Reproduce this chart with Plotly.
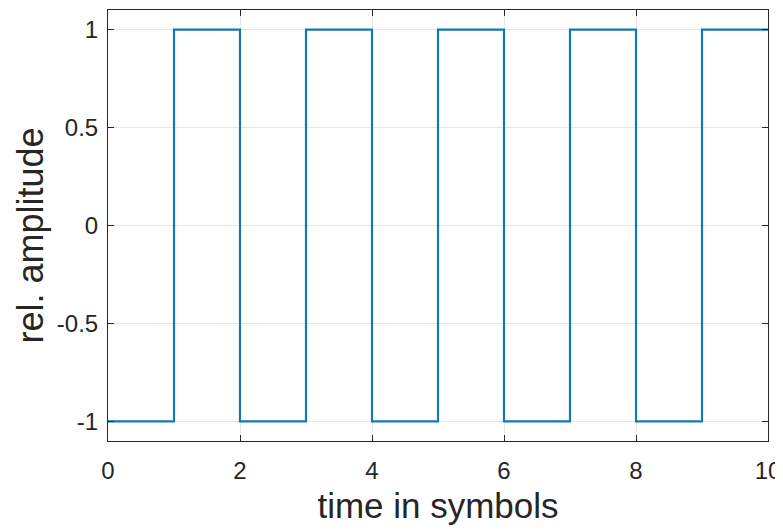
import plotly.graph_objects as go

time_symbols = [0, 1, 2, 3, 4, 5, 6, 7, 8, 9, 10]
amplitude = [-1, 1, -1, 1, -1, 1, -1, 1, -1, 1, 1]
x_ticks = [0, 2, 4, 6, 8, 10]
y_ticks = [-1, -0.5, 0, 0.5, 1]
y_tick_labels = ["-1", "-0.5", "0", "0.5", "1"]
x_title = "time in symbols"
y_title = "rel. amplitude"

FONT = "Liberation Sans, Arial, sans-serif"

fig = go.Figure()
fig.add_trace(go.Scatter(
    x=time_symbols, y=amplitude, mode="lines",
    line=dict(shape="hv", color="#1478B4", width=2.2),
    showlegend=False, cliponaxis=False,
))

axis_common = dict(
    showline=True, linecolor="#262626", linewidth=1, mirror="allticks",
    ticks="inside", ticklen=6, tickcolor="#262626",
    showgrid=True, gridcolor="#E6E6E6", gridwidth=1,
    zeroline=False, automargin=False,
    tickfont=dict(family=FONT, size=24, color="#262626"),
)

fig.update_xaxes(
    range=[0, 10], tickvals=x_ticks, ticklabelstandoff=8,
    title=dict(text=x_title, font=dict(family=FONT, size=35, color="#262626"), standoff=10),
    **axis_common,
)
fig.update_yaxes(
    range=[-1.1, 1.1], tickvals=y_ticks, ticktext=y_tick_labels, ticklabelstandoff=4,
    **axis_common,
)

fig.add_annotation(
    text=y_title, textangle=-90, showarrow=False,
    xref="paper", yref="paper", x=0, y=0.5,
    xanchor="center", yanchor="middle", xshift=-78, yshift=-10,
    font=dict(family=FONT, size=36, color="#262626"),
)

# page body has an 8px margin, so the figure is drawn at (8, 8)
fig.update_layout(
    width=775, height=522,
    margin=dict(l=100, r=15, t=2, b=89),
    plot_bgcolor="white", paper_bgcolor="white",
)

fig.write_html("out.html")
